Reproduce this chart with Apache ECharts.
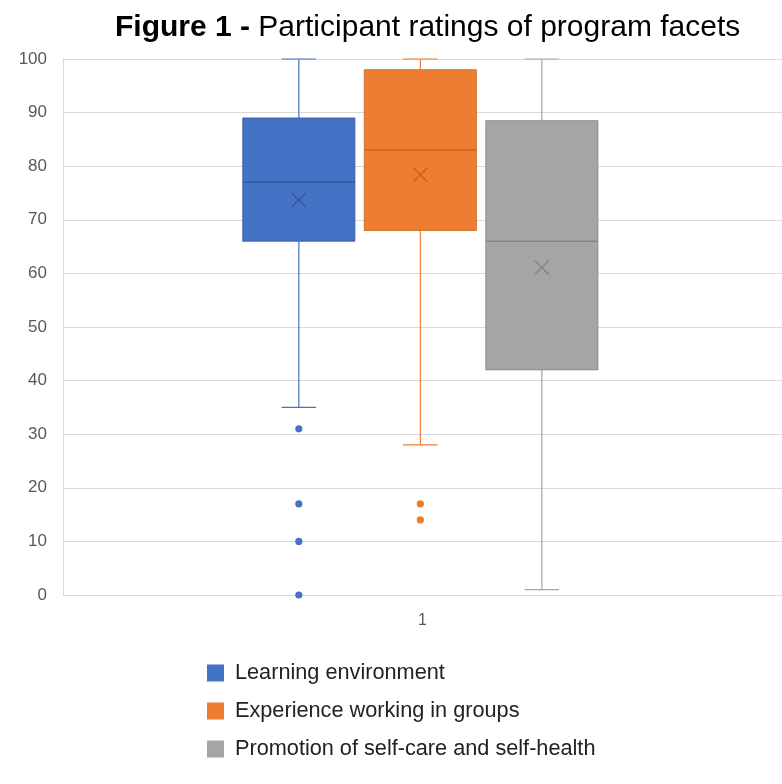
<!DOCTYPE html>
<html>
<head>
<meta charset="utf-8">
<script src="https://cdn.jsdelivr.net/npm/echarts@6/dist/echarts.min.js"></script>
<style>
  html, body { margin: 0; padding: 0; background: #ffffff; }
  #chart { width: 782px; height: 784px; }
</style>
</head>
<body>
<div id="chart"></div>
<script>
// Ratings summary per program facet (0-100 scale)
const categories = ['1'];
const seriesNames = [
  'Learning environment',
  'Experience working in groups',
  'Promotion of self-care and self-health'
];
const lowWhisker  = [35, 28, 1];
const lowerQuartile = [66, 68, 42];
const medians     = [77, 83, 66];
const upperQuartile = [89, 98, 88.5];
const highWhisker = [100, 100, 100];
const means       = [73.7, 78.4, 61.1];
const outliers    = [[31, 17, 10, 0], [17, 14], []];
const yTicks = { min: 0, max: 100, interval: 10 };

const fillColors = ['#4472C4', '#ED7D31', '#A5A5A5'];
const darkColors = ['#35589A', '#C5661F', '#858585'];

function makeRenderer(idx) {
  return function (params, api) {
    const bw = api.size([1, 0])[0];
    const base = api.coord([api.value(0), 0])[0];
    const cx = base + (idx - 1) * 0.169 * bw - 0.003 * bw;
    const boxHalf = 0.078 * bw;
    const capHalf = 0.024 * bw;
    const yOf = v => api.coord([api.value(0), v])[1];
    const yLow = yOf(api.value(1));
    const yQ1 = yOf(api.value(2));
    const yMed = yOf(api.value(3));
    const yQ3 = yOf(api.value(4));
    const yHigh = yOf(api.value(5));
    const yMean = yOf(api.value(6));
    const fill = fillColors[idx];
    const dark = darkColors[idx];
    const lineStyle = { stroke: fill, lineWidth: 1.2 };
    const children = [
      { type: 'line', shape: { x1: cx, y1: yLow, x2: cx, y2: yQ1 }, style: lineStyle },
      { type: 'line', shape: { x1: cx, y1: yQ3, x2: cx, y2: yHigh }, style: lineStyle },
      { type: 'line', shape: { x1: cx - capHalf, y1: yLow, x2: cx + capHalf, y2: yLow }, style: lineStyle },
      { type: 'line', shape: { x1: cx - capHalf, y1: yHigh, x2: cx + capHalf, y2: yHigh }, style: lineStyle },
      {
        type: 'rect',
        shape: { x: cx - boxHalf, y: yQ3, width: boxHalf * 2, height: yQ1 - yQ3 },
        style: { fill: fill, stroke: dark, lineWidth: 0.8 }
      },
      { type: 'line', shape: { x1: cx - boxHalf, y1: yMed, x2: cx + boxHalf, y2: yMed }, style: { stroke: dark, lineWidth: 1.5 } },
      { type: 'line', shape: { x1: cx - 7, y1: yMean - 7, x2: cx + 7, y2: yMean + 7 }, style: { stroke: dark, lineWidth: 1.5 } },
      { type: 'line', shape: { x1: cx - 7, y1: yMean + 7, x2: cx + 7, y2: yMean - 7 }, style: { stroke: dark, lineWidth: 1.5 } }
    ];
    outliers[idx].forEach(v => {
      children.push({ type: 'circle', shape: { cx: cx, cy: yOf(v), r: 3.6 }, style: { fill: fill } });
    });
    return { type: 'group', children: children };
  };
}

const series = seriesNames.map((name, i) => ({
  name: name,
  type: 'custom',
  itemStyle: { color: fillColors[i] },
  data: [[0, lowWhisker[i], lowerQuartile[i], medians[i], upperQuartile[i], highWhisker[i], means[i]]],
  encode: { x: 0, y: [1, 2, 3, 4, 5, 6] },
  renderItem: makeRenderer(i),
  clip: false
}));

const chart = echarts.init(document.getElementById('chart'), null, { renderer: 'canvas' });
chart.setOption({
  backgroundColor: '#ffffff',
  animation: false,
  title: {
    text: '{b|Figure 1 - }{r|Participant ratings of program facets}',
    left: 110,
    top: 8,
    textStyle: {
      rich: {
        b: { fontFamily: 'Liberation Sans', fontSize: 30, fontWeight: 'bold', color: '#000000' },
        r: { fontFamily: 'Liberation Sans', fontSize: 30, fontWeight: 'normal', color: '#000000' }
      }
    }
  },
  legend: {
    orient: 'vertical',
    left: 202,
    top: 657,
    itemWidth: 17,
    itemHeight: 17,
    itemGap: 16,
    icon: 'rect',
    textStyle: {
      fontFamily: 'Liberation Sans',
      fontSize: 21.7,
      color: '#222222',
      padding: [0, 0, 0, 6]
    },
    data: seriesNames
  },
  grid: { left: 63, right: 0, top: 59, bottom: 189, containLabel: false },
  xAxis: {
    type: 'category',
    data: categories,
    axisLine: { show: true, lineStyle: { color: '#d9d9d9', width: 1 } },
    axisTick: { show: false },
    axisLabel: { fontFamily: 'Liberation Sans', fontSize: 16, color: '#595959', margin: 18 }
  },
  yAxis: {
    type: 'value',
    min: yTicks.min,
    max: yTicks.max,
    interval: yTicks.interval,
    axisLine: { show: true, lineStyle: { color: '#d9d9d9', width: 1 } },
    axisTick: { show: false },
    splitLine: { lineStyle: { color: '#d9d9d9', width: 1 } },
    axisLabel: { fontFamily: 'Liberation Sans', fontSize: 17, color: '#595959', margin: 16 }
  },
  series: series
});
</script>
</body>
</html>
